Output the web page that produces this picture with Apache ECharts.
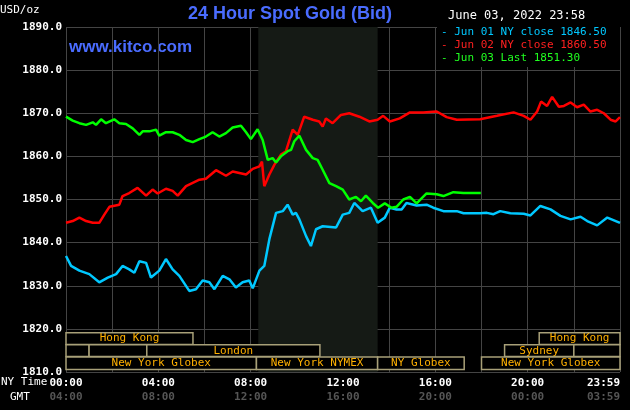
<!DOCTYPE html>
<html><head><meta charset="utf-8">
<script src="https://cdn.jsdelivr.net/npm/echarts@6/dist/echarts.min.js"></script>
<style>html,body{margin:0;background:#000}#c{width:630px;height:410px}</style>
</head><body><div id="c"></div>
<script>
const jun01 = [[0,1836.9],[0.22,1834.6],[0.58,1833.5],[1.01,1832.7],[1.44,1830.8],[1.81,1831.9],[2.17,1832.7],[2.45,1834.6],[2.74,1833.8],[2.96,1833],[3.18,1835.7],[3.47,1835.3],[3.68,1831.9],[4.04,1833.5],[4.33,1836.2],[4.62,1833.8],[4.91,1832.3],[5.34,1828.8],[5.63,1829.2],[5.92,1831.2],[6.21,1830.8],[6.43,1829.2],[6.79,1832.3],[7.08,1831.5],[7.36,1829.6],[7.65,1830.8],[7.94,1831.2],[8.09,1829.4],[8.38,1833.5],[8.59,1834.6],[8.81,1840.8],[9.10,1846.9],[9.39,1847.3],[9.60,1848.8],[9.82,1846.5],[9.96,1846.9],[10.11,1845.4],[10.40,1841.5],[10.61,1839.2],[10.83,1843.1],[11.12,1843.8],[11.70,1843.5],[11.99,1846.5],[12.27,1846.9],[12.49,1849.2],[12.85,1847.3],[13.21,1848.1],[13.50,1844.6],[13.81,1845.8],[14.03,1848.1],[14.32,1847.7],[14.54,1847.7],[14.75,1849.2],[15.19,1848.6],[15.62,1848.8],[15.91,1848.1],[16.35,1847.3],[16.93,1847.3],[17.22,1846.8],[17.94,1846.8],[18.23,1846.9],[18.52,1846.6],[18.81,1847.3],[19.25,1846.8],[19.83,1846.7],[20.12,1846.3],[20.55,1848.5],[20.99,1847.7],[21.42,1846.2],[21.86,1845.4],[22.29,1846],[22.58,1845],[23.01,1844],[23.45,1845.8],[24,1844.6]];
const jun02 = [[0,1844.6],[0.29,1845],[0.58,1845.8],[0.87,1845],[1.16,1844.6],[1.44,1844.6],[1.66,1846.5],[1.88,1848.3],[2.31,1848.8],[2.45,1850.8],[2.74,1851.5],[3.10,1852.7],[3.47,1850.9],[3.75,1852.3],[3.97,1851.4],[4.33,1852.5],[4.62,1852],[4.84,1850.9],[5.20,1853.1],[5.78,1854.6],[6.06,1854.8],[6.50,1856.8],[6.93,1855.5],[7.22,1856.5],[7.80,1855.8],[8.09,1857.1],[8.38,1857.7],[8.49,1858.8],[8.59,1853.1],[8.81,1855.8],[9.03,1858.1],[9.31,1860.4],[9.53,1861.2],[9.82,1866.2],[10.04,1865],[10.32,1869.2],[10.69,1868.5],[10.97,1868.1],[11.12,1866.9],[11.26,1868.8],[11.55,1867.7],[11.91,1869.6],[12.27,1870],[12.71,1869.2],[13.14,1868.1],[13.50,1868.5],[13.74,1869.4],[14.03,1868.1],[14.46,1868.8],[14.90,1870.2],[15.48,1870.2],[16.06,1870.4],[16.49,1869.1],[16.93,1868.5],[17.94,1868.6],[18.67,1869.4],[19.39,1870.2],[19.83,1869.4],[20.12,1868.5],[20.41,1870.4],[20.58,1872.7],[20.84,1871.7],[21.06,1873.8],[21.35,1871.5],[21.57,1871.7],[21.86,1872.5],[22.14,1871.4],[22.43,1872],[22.72,1870.4],[23.01,1870.8],[23.30,1870],[23.59,1868.5],[23.81,1868.1],[24,1869.1]];
const jun03 = [[0,1869.2],[0.29,1868.3],[0.58,1867.7],[0.87,1867.3],[1.16,1867.9],[1.30,1867.3],[1.52,1868.6],[1.73,1867.7],[2.09,1868.6],[2.31,1867.7],[2.60,1867.5],[2.89,1866.5],[3.18,1865],[3.32,1865.8],[3.61,1865.8],[3.90,1866.2],[4.04,1864.8],[4.33,1865.6],[4.62,1865.6],[4.91,1865],[5.20,1863.8],[5.49,1863.3],[5.78,1864],[6.06,1864.6],[6.35,1865.6],[6.64,1864.6],[6.93,1865.4],[7.22,1866.7],[7.58,1867.1],[7.80,1865.6],[8.01,1864],[8.30,1866.3],[8.52,1863.8],[8.74,1859.2],[8.95,1859.6],[9.10,1858.6],[9.31,1860],[9.60,1861.2],[9.75,1861.5],[9.89,1863.5],[10.11,1864.8],[10.40,1861.5],[10.69,1859.6],[10.90,1859.2],[11.12,1856.9],[11.41,1853.8],[11.70,1853.1],[11.99,1852.3],[12.27,1850],[12.56,1850.6],[12.78,1849.6],[12.99,1850.9],[13.29,1849.2],[13.52,1848.1],[13.81,1849.1],[14.10,1848.1],[14.32,1848.3],[14.61,1850],[14.90,1850.6],[15.19,1849.1],[15.62,1851.4],[16.06,1851.2],[16.35,1850.8],[16.78,1851.7],[17.22,1851.5],[17.97,1851.5]];
const yTicks = [1810,1820,1830,1840,1850,1860,1870,1880,1890];
const nyLabels = {0:'00:00',4:'04:00',8:'08:00',12:'12:00',16:'16:00',20:'20:00',24:'23:59'};
const gmtLabels = {0:'04:00',4:'08:00',8:'12:00',12:'16:00',16:'20:00',20:'00:00',24:'03:59'};
const sessions = [[0,5.5,0,'Hong Kong'],[20.5,24,0,'Hong Kong'],[0,1,1,''],[1,3.5,1,''],[3.5,11,1,'London'],[19,22,1,'Sydney'],[22,24,1,''],[0,8.25,2,'New York Globex'],[8.25,13.5,2,'New York NYMEX'],[13.5,17.25,2,'NY Globex'],[18,24,2,'New York Globex']];
const rowBands = [[1819.1,1816.4],[1816.3,1813.6],[1813.5,1810.6]];
const nymex = [8.33,13.5];
const legendItems = [['Jun 01 NY close 1846.50','#00c8ff'],['Jun 02 NY close 1860.50','#ff2020'],['Jun 03 Last 1851.30','#20ff20']];

const mono = 'DejaVu Sans Mono';
const chart = echarts.init(document.getElementById('c'));
const line = (name,data,color,extra)=>Object.assign({type:'line',name,data,showSymbol:false,symbol:'none',lineStyle:{color,width:2.5},itemStyle:{color},silent:true,animation:false,z:5},extra||{});
chart.setOption({
  backgroundColor:'#000',
  animation:false,
  grid:{left:66,right:10,top:27,bottom:38,outerBoundsMode:'none',containLabel:false},
  xAxis:{type:'value',min:0,max:24,interval:2,
    axisLine:{show:false},axisTick:{show:false},
    splitLine:{show:true,lineStyle:{color:'#444',width:1}},
    axisLabel:{margin:4,hideOverlap:false,showMinLabel:true,showMaxLabel:true,alignMaxLabel:'right',formatter:v=>nyLabels[v]!==undefined?'{a|'+nyLabels[v]+'}\n{b|'+gmtLabels[v]+'}':'',
      rich:{a:{color:'#fff',fontFamily:mono,fontSize:11,fontWeight:'bold',lineHeight:14},b:{color:'#555',fontFamily:mono,fontSize:11,fontWeight:'bold',lineHeight:14}}}},
  yAxis:{type:'value',min:1810,max:1890,interval:10,
    axisLine:{show:false},axisTick:{show:false},
    splitLine:{show:true,lineStyle:{color:'#444',width:1}},
    axisLabel:{color:'#fff',fontFamily:mono,fontSize:11,fontWeight:'bold',margin:4,formatter:v=>v.toFixed(1)}},
  graphic:[
    {type:'text',left:0,top:5,style:{text:'USD/oz',fill:'#fff',font:'11px '+mono}},
    {type:'text',left:188,top:5,style:{text:'24 Hour Spot Gold (Bid)',fill:'#4a6cff',font:'bold 18px "Liberation Sans"'}},
    {type:'text',left:448,top:10,style:{text:'June 03, 2022 23:58',fill:'#fff',font:'12px '+mono}},
    {type:'text',left:69,top:39,style:{text:'www.kitco.com',fill:'#4a6cff',font:'bold 17px "Liberation Sans"'}},
    {type:'rect',shape:{x:437,y:27,width:183,height:40},style:{fill:'#000'},z:10},
    ...legendItems.map((it,i)=>({type:'text',left:441,top:27+i*13,z:11,style:{text:'- '+it[0],fill:it[1],font:'11px '+mono}})),
    {type:'text',left:1,top:377,style:{text:'NY Time',fill:'#fff',font:'11px '+mono}},
    {type:'text',left:10,top:392,style:{text:'GMT',fill:'#fff',font:'11px '+mono}}
  ],
  series:[
    line('jun01',jun01,'#00c8ff',{markArea:{silent:true,itemStyle:{color:'#151a15'},data:[[{xAxis:nymex[0]},{xAxis:nymex[1]}]]}}),
    line('jun02',jun02,'#ff0000'),
    line('jun03',jun03,'#00ff00'),
    {type:'custom',silent:true,animation:false,z:6,data:sessions,
      renderItem:(p,api)=>{
        const r=api.value(2);const b=rowBands[r];
        const p1=api.coord([api.value(0),b[0]]),p2=api.coord([api.value(1),b[1]]);
        const lbl=sessions[p.dataIndex][3];
        return {type:'group',children:[
          {type:'rect',shape:{x:p1[0],y:p1[1],width:p2[0]-p1[0],height:p2[1]-p1[1]},style:{fill:'#000',stroke:'#a8a078',lineWidth:1.5}},
          {type:'text',style:{text:lbl,x:(p1[0]+p2[0])/2,y:(p1[1]+p2[1])/2,align:'center',verticalAlign:'middle',fill:'#ffb000',font:'11px '+mono}}
        ]};
      }}
  ]
});
</script></body></html>
